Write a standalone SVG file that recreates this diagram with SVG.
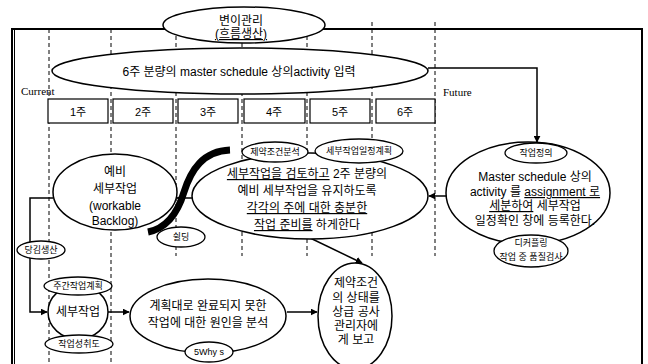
<svg xmlns="http://www.w3.org/2000/svg" width="648" height="364" viewBox="0 0 648 364">
<defs>
<marker id="ah" viewBox="0 0 10 10" refX="9" refY="5" markerWidth="7" markerHeight="7" markerUnits="userSpaceOnUse" orient="auto">
<path d="M0,0 L10,5 L0,10 z" fill="#000"/>
</marker>
<style>
.e{fill:#fff;stroke:#000;stroke-width:1.5}
.es{fill:#fff;stroke:#000;stroke-width:1.3}
.t{font-family:"Liberation Sans","Noto Sans CJK KR",sans-serif;font-size:12px;fill:#000;text-anchor:middle}
.ts{font-family:"Liberation Sans","Noto Sans CJK KR",sans-serif;font-size:9px;fill:#000;text-anchor:middle}
.sf{font-family:"Liberation Serif","Noto Sans CJK KR",serif;font-size:11px;fill:#000}
.d{stroke:#000;stroke-width:1;stroke-dasharray:4,3;fill:none}
.c{stroke:#000;stroke-width:1.5;fill:none}
.u{text-decoration:underline}
</style>
</defs>
<rect width="648" height="364" fill="#fff"/>

<g id="frame">
<path d="M12,370 L12,29 L642,29 L642,370" fill="none" stroke="#000" stroke-width="2"/>
<line x1="14.5" y1="29" x2="14.5" y2="370" stroke="#000" stroke-width="1"/>
</g>

<g id="timeline">
<line class="d" x1="49" y1="29" x2="49" y2="364"/>
<line class="d" x1="111" y1="29" x2="111" y2="364"/>
<line class="d" x1="176" y1="29" x2="176" y2="256"/>
<line class="d" x1="242" y1="29" x2="242" y2="256"/>
<line class="d" x1="307" y1="29" x2="307" y2="256"/>
<line class="d" x1="372" y1="22" x2="372" y2="256"/>
<line class="d" x1="435" y1="22" x2="435" y2="256"/>
<text class="sf" x="21" y="95">Current</text>
<text class="sf" x="443" y="96">Future</text>
</g>

<g id="weeks">
<rect x="48" y="99" width="60" height="24" fill="#fff" stroke="#000" stroke-width="1.2"/>
<rect x="113" y="99" width="60" height="24" fill="#fff" stroke="#000" stroke-width="1.2"/>
<rect x="178" y="99" width="60" height="24" fill="#fff" stroke="#000" stroke-width="1.2"/>
<rect x="244" y="99" width="61" height="24" fill="#fff" stroke="#000" stroke-width="1.2"/>
<rect x="310" y="99" width="60" height="24" fill="#fff" stroke="#000" stroke-width="1.2"/>
<rect x="376" y="99" width="59" height="24" fill="#fff" stroke="#000" stroke-width="1.2"/>
<text class="t" x="78" y="116" style="font-size:11px">1주</text>
<text class="t" x="143" y="116" style="font-size:11px">2주</text>
<text class="t" x="208" y="116" style="font-size:11px">3주</text>
<text class="t" x="274" y="116" style="font-size:11px">4주</text>
<text class="t" x="340" y="116" style="font-size:11px">5주</text>
<text class="t" x="405" y="116" style="font-size:11px">6주</text>
</g>

<g id="connectors">
<path class="c" d="M428,68 L537,68 L537,142" marker-end="url(#ah)"/>
<line class="c" x1="448" y1="196" x2="429" y2="196" marker-end="url(#ah)"/>
<line class="c" x1="192" y1="198" x2="177" y2="198" marker-end="url(#ah)"/>
<path class="c" d="M53,198 L30,198 L30,312 L47,312" marker-end="url(#ah)"/>
<line class="c" x1="108" y1="312" x2="129" y2="312" marker-end="url(#ah)"/>
<line class="c" x1="287" y1="312" x2="317" y2="312" marker-end="url(#ah)"/>
<line class="c" x1="306" y1="236" x2="362" y2="263" marker-end="url(#ah)"/>
</g>

<g id="node-variation">
<ellipse class="e" cx="244" cy="25" rx="81" ry="18"/>
<text class="t" x="241" y="25">변이관리</text>
<text class="t u" x="241" y="38">(흐름생산)</text>
</g>

<g id="node-master-input">
<ellipse class="e" cx="240" cy="71" rx="188" ry="23"/>
<text class="t" x="239" y="76">6주 분량의 master schedule 상의activity 입력</text>
</g>

<g id="node-central">
<ellipse class="e" cx="310" cy="196" rx="118" ry="43"/>
<text class="t" x="307" y="178"><tspan class="u">세부작업을 검토하고</tspan> 2주 분량의</text>
<text class="t" x="307" y="195">예비 세부작업을 유지하도록</text>
<text class="t u" x="307" y="212">각각의 주에 대한 충분한</text>
<text class="t" x="307" y="229"><tspan class="u">작업 준비를</tspan> 하게한다</text>
</g>

<g id="node-constraint-analysis">
<ellipse class="es" cx="275" cy="152" rx="33" ry="10"/>
<text class="ts" x="275" y="155">제약조건분석</text>
</g>

<g id="node-detail-schedule">
<ellipse class="es" cx="359" cy="151" rx="44" ry="12"/>
<text class="ts" x="359" y="154">세부작업일정계획</text>
</g>

<g id="node-backlog">
<ellipse class="e" cx="115" cy="192" rx="62" ry="38"/>
<text class="t" x="115" y="176">예비</text>
<text class="t" x="115" y="193">세부작업</text>
<text class="t" x="115" y="210">(workable</text>
<text class="t" x="115" y="225">Backlog)</text>
</g>

<g id="shielding">
<path d="M230,150 C203,151 191,170 184,192 C178,212 168,228 148,232" fill="none" stroke="#000" stroke-width="7"/>
</g>

<g id="node-shielding">
<ellipse class="es" cx="181" cy="237" rx="24" ry="10"/>
<text class="ts" x="181" y="240">쉴딩</text>
</g>

<g id="node-master-detail">
<ellipse class="e" cx="528" cy="193" rx="82" ry="51"/>
<text class="t" x="535" y="181">Master schedule 상의</text>
<text class="t" x="535" y="196">activity 를  <tspan class="u">assignment 로</tspan></text>
<text class="t" x="535" y="210"><tspan class="u">세분하여</tspan> 세부작업</text>
<text class="t" x="535" y="225">일정확인 창에 등록한다.</text>
</g>

<g id="node-work-def">
<ellipse class="es" cx="536" cy="153" rx="31" ry="10"/>
<text class="ts" x="536" y="156">작업정의</text>
</g>

<g id="node-decoupling">
<ellipse class="es" cx="531" cy="251" rx="37" ry="16"/>
<text class="ts" x="531" y="246">디커플링</text>
<text class="ts" x="531" y="260">작업 중 품질검사</text>
</g>

<g id="node-pull">
<ellipse class="es" cx="41" cy="250" rx="24" ry="9"/>
<text class="ts" x="41" y="253">당김생산</text>
</g>

<g id="node-task">
<ellipse class="e" cx="78" cy="312" rx="30" ry="27"/>
<text class="t" x="78" y="316">세부작업</text>
</g>

<g id="node-weekly">
<ellipse class="es" cx="78" cy="286" rx="34" ry="9"/>
<text class="ts" x="78" y="289">주간작업계획</text>
</g>

<g id="node-ppc">
<ellipse class="es" cx="79" cy="344" rx="34" ry="9"/>
<text class="ts" x="79" y="347">작업성취도</text>
</g>

<g id="node-cause">
<ellipse class="e" cx="208" cy="316" rx="78" ry="37"/>
<text class="t" x="208" y="310">계획대로 완료되지 못한</text>
<text class="t" x="208" y="327">작업에 대한 원인을 분석</text>
</g>

<g id="node-5why">
<ellipse class="es" cx="209" cy="352" rx="24" ry="10"/>
<text class="ts" x="209" y="355">5Why s</text>
</g>

<g id="node-report">
<ellipse class="e" cx="355" cy="316" rx="37" ry="53"/>
<text class="t" x="356" y="287">제약조건</text>
<text class="t" x="356" y="302">의 상태를</text>
<text class="t" x="356" y="316">상급 공사</text>
<text class="t" x="356" y="330">관리자에</text>
<text class="t" x="356" y="344">게 보고</text>
</g>
</svg>
